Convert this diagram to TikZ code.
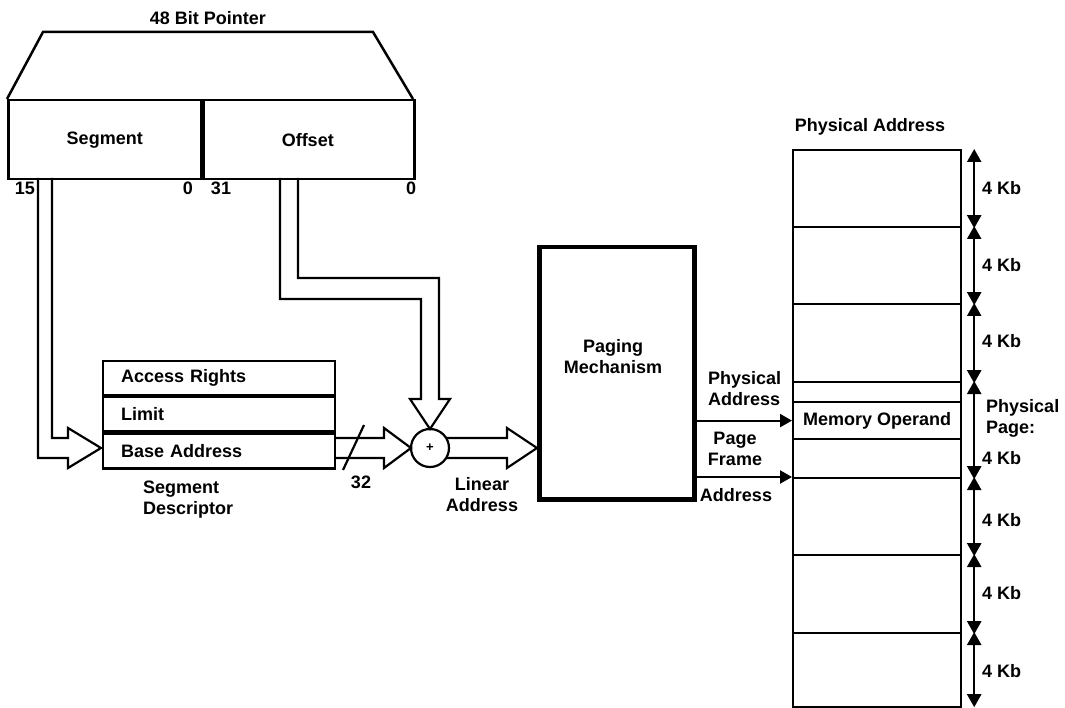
\documentclass[tikz,border=0pt]{standalone}
\usepackage{fontspec}
\setmainfont{Liberation Sans}
\usetikzlibrary{arrows.meta,calc}
\begin{document}
\begin{tikzpicture}[x=1pt,y=-1pt,
  every node/.style={font=\fontsize{18}{21}\selectfont\bfseries, inner sep=0pt},
  thin line/.style={line width=2.2pt},
  hollow/.style={line width=2.2pt, line join=miter},
  cell/.style={draw, line width=2.2pt, minimum width=168pt, anchor=north west, inner sep=0pt},
  descrow/.style={draw, line width=2.2pt, anchor=north west, minimum height=34pt, text width=196pt, inner xsep=18pt, align=left},
  dimarrow/.style={line width=2.2pt, {Triangle[width=14pt,length=13pt]}-{Triangle[width=14pt,length=13pt]}},
  ptr/.style={line width=2.2pt, -{Triangle[width=13pt,length=12pt]}},
  lbl/.style={align=center}
]
\useasboundingbox (0,0) rectangle (1065,708);

% 48 bit pointer
\node (title) at (208,18) {48 Bit Pointer};
\draw[line width=2.5pt, line join=miter] (7,99) -- (43,32) -- (373,32) -- (413,99);
\node[draw, line width=2.5pt, minimum width=193pt, minimum height=79pt, anchor=north west] (seg) at (7,99) {Segment};
\node[draw, line width=2.5pt, minimum width=213pt, minimum height=79pt, anchor=north west] (off) at (200,99) {Offset};
\draw[line width=5pt] (seg.north east) -- (seg.south east);
\node (b15) at (25,188) {15};
\node (b0a) at (188,188) {0};
\node (b31) at (221,188) {31};
\node (b0b) at (411,188) {0};

% segment descriptor
\node[descrow] (ar) at (102,360) {Access Rights};
\node[descrow] (lim) at (ar.south west) {Limit};
\node[descrow, minimum height=35pt] (ba) at (lim.south west) {Base Address};
\node[align=left, anchor=west] (sdl) at (143,500) {Segment\\Descriptor};

% adder
\node[draw, circle, line width=2.2pt, minimum size=38pt, font=\fontsize{13}{14}\selectfont\bfseries] (sum) at (430,448) {+};

% hollow arrows
\draw[hollow] (38,178) -- (38,458) -- (68,458) -- (68,468) -- (101,448) -- (68,428) -- (68,438) -- (52,438) -- (52,178);
\draw[hollow] (280,178) -- (280,299) -- (421,299) -- (421,399) -- (410,399) -- (430,429) -- (450,399) -- (439,399) -- (439,278) -- (298,278) -- (298,178);
\draw[hollow] (334,438) -- (384,438) -- (384,428) -- (411,448) -- (384,468) -- (384,458) -- (334,458);
\draw[hollow] (446,438) -- (507,438) -- (507,428) -- (537,448) -- (507,468) -- (507,458) -- (446,458);
\draw[thin line] (364,425) -- (343,470);
\node (n32) at (361,482) {32};
\node[lbl] (lin) at (482,495) {Linear\\Address};

% paging mechanism
\node[draw, line width=4.5pt, minimum width=155pt, minimum height=252pt, anchor=north west] (pag) at (537,245) {};
\node[lbl] (pagl) at (613,357) {Paging\\Mechanism};

% physical memory
\node (phys) at (870,127) {Physical Address};
\node[cell, minimum height=77pt] (p1) at (792,149) {};
\node[cell, minimum height=77pt] (p2) at (792,226) {};
\node[cell, minimum height=78pt] (p3) at (792,303) {};
\node[cell, minimum height=20pt] (p4a) at (792,381) {};
\node[cell, minimum height=37pt] (mo) at (792,401) {Memory Operand};
\node[cell, minimum height=39pt] (p4b) at (792,438) {};
\node[cell, minimum height=77pt] (p5) at (792,477) {};
\node[cell, minimum height=78pt] (p6) at (792,554) {};
\node[cell, minimum height=74pt] (p7) at (792,632) {};

% page size arrows
\draw[dimarrow] ([xshift=12pt]p1.north east) -- ([xshift=12pt]p1.south east);
\draw[dimarrow] ([xshift=12pt]p2.north east) -- ([xshift=12pt]p2.south east);
\draw[dimarrow] ([xshift=12pt]p3.north east) -- ([xshift=12pt]p3.south east);
\draw[dimarrow] ([xshift=12pt]p4a.north east) -- ([xshift=12pt]p4b.south east);
\draw[dimarrow] ([xshift=12pt]p5.north east) -- ([xshift=12pt]p5.south east);
\draw[dimarrow] ([xshift=12pt]p6.north east) -- ([xshift=12pt]p6.south east);
\draw[dimarrow] ([xshift=12pt]p7.north east) -- ([xshift=12pt,yshift=1pt]p7.south east);
\node[anchor=west] (k1) at (982,188) {4 Kb};
\node[anchor=west] (k2) at (982,265) {4 Kb};
\node[anchor=west] (k3) at (982,341) {4 Kb};
\node[anchor=west, align=left] (ppg) at (986,418) {Physical\\Page:};
\node[anchor=west] (k4) at (982,458) {4 Kb};
\node[anchor=west] (k5) at (982,520) {4 Kb};
\node[anchor=west] (k6) at (982,593) {4 Kb};
\node[anchor=west] (k7) at (982,671) {4 Kb};

% paging outputs
\draw[ptr] (pag.east |- mo.west) -- (mo.west);
\draw[ptr] (pag.east |- p5.north west) -- (p5.north west);
\node[anchor=west, align=left] (pal) at (708,389) {Physical\\Address};
\node[lbl] (pfl) at (735,449) {Page\\Frame};
\node (pfa) at (736,495) {Address};
\end{tikzpicture}
\end{document}
